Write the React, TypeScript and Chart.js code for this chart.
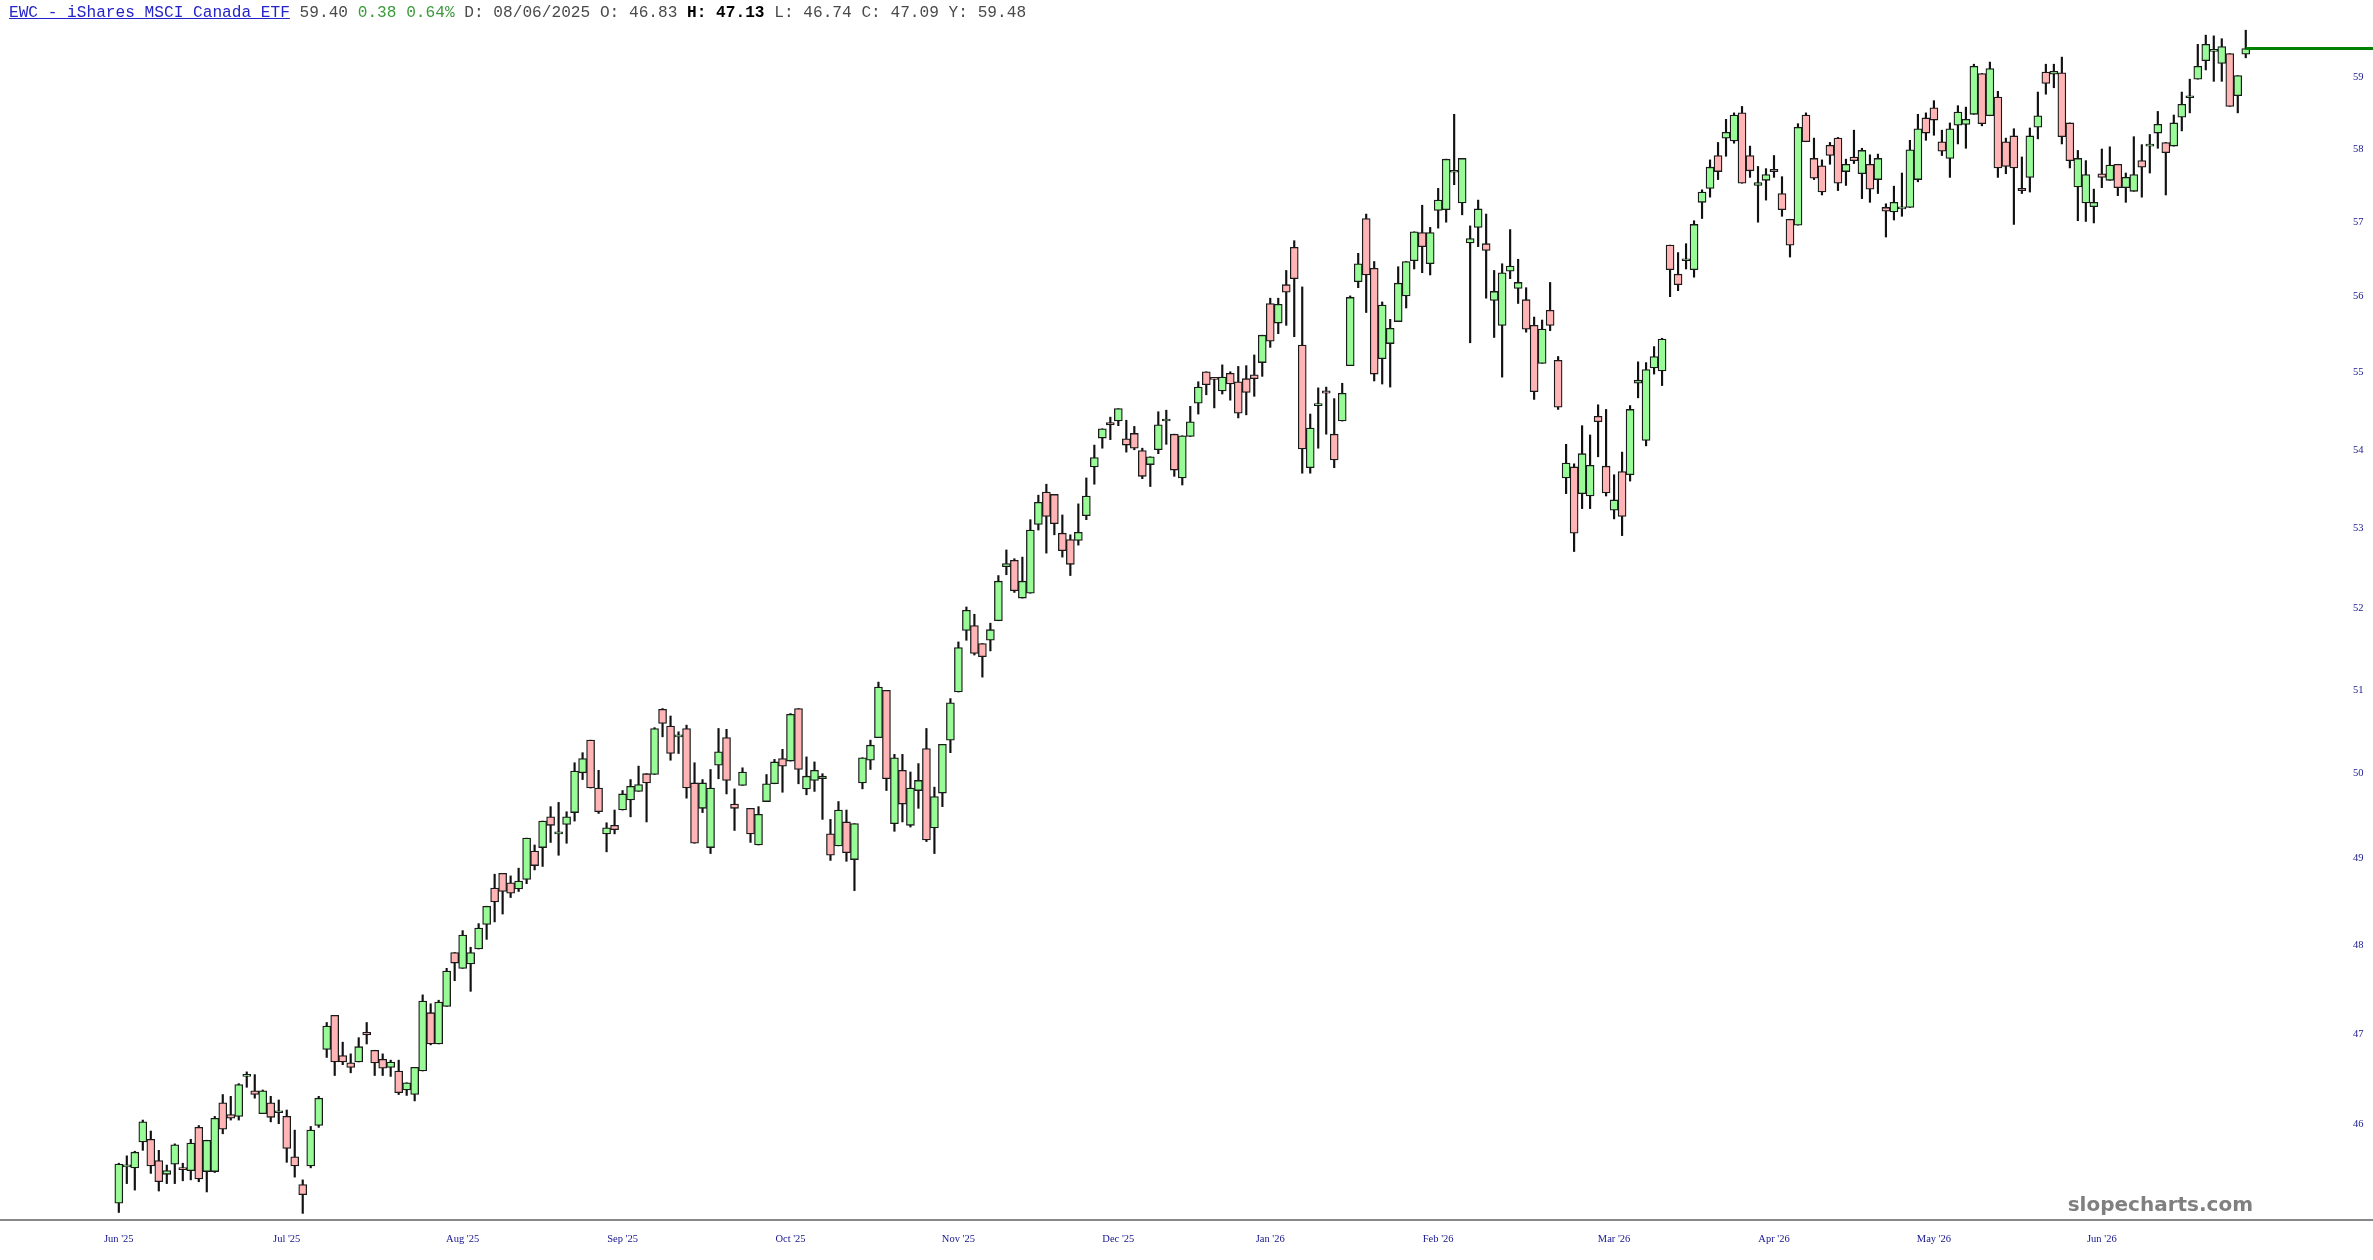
import React, { useEffect, useRef } from "react";
import { Chart, registerables } from "chart.js";

Chart.register(...registerables);

// ---- Data ----
const opens = [
  45.15, 45.54, 45.53, 45.81, 45.84, 45.61, 45.46, 45.57, 45.53, 45.50,
  45.97, 45.49, 45.49, 46.24, 46.11, 46.09, 46.53, 46.37, 46.12, 46.24,
  46.13, 46.09, 45.65, 45.35, 45.55, 45.99, 46.83, 47.21, 46.76, 46.68,
  46.69, 47.02, 46.82, 46.72, 46.63, 46.59, 46.38, 46.33, 46.59, 47.24,
  46.89, 47.31, 47.92, 47.74, 47.79, 47.96, 48.24, 48.66, 48.83, 48.72,
  48.65, 48.76, 49.09, 49.13, 49.49, 49.29, 49.40, 49.54, 50.01, 50.40,
  49.83, 49.29, 49.39, 49.57, 49.69, 49.79, 50.00, 49.99, 50.77, 50.57,
  50.44, 50.54, 49.89, 49.59, 49.13, 50.10, 50.43, 49.64, 49.86, 49.59,
  49.16, 49.67, 49.88, 50.18, 50.15, 50.78, 49.82, 49.92, 49.94, 49.29,
  49.15, 49.43, 48.99, 49.89, 50.16, 50.43, 51.00, 49.41, 50.04, 49.39,
  49.80, 50.30, 49.36, 49.77, 50.40, 50.98, 51.73, 51.79, 51.57, 51.61,
  51.85, 52.52, 52.60, 52.13, 52.19, 53.05, 53.46, 53.43, 52.94, 52.86,
  52.85, 53.16, 53.78, 54.15, 54.35, 54.37, 54.14, 54.21, 53.99, 53.81,
  54.00, 54.37, 54.20, 53.64, 54.17, 54.60, 55.01, 54.92, 54.76, 54.99,
  54.88, 54.92, 54.97, 55.13, 55.91, 55.65, 56.16, 56.66, 55.36, 53.77,
  54.57, 54.76, 54.20, 54.37, 55.09, 56.20, 57.05, 56.38, 55.18, 55.38,
  55.67, 56.01, 56.48, 56.86, 56.44, 57.16, 57.17, 57.68, 57.26, 56.72,
  56.93, 56.71, 55.95, 55.62, 56.34, 56.11, 55.96, 55.62, 55.12, 55.82,
  55.16, 53.64, 53.78, 53.44, 53.41, 54.43, 53.79, 53.23, 53.72, 53.68,
  54.86, 54.12, 55.06, 55.02, 56.69, 56.30, 56.48, 56.36, 57.27, 57.46,
  57.91, 58.15, 58.11, 58.50, 57.91, 57.50, 57.57, 57.72, 57.39, 57.04,
  56.96, 58.47, 57.87, 57.77, 58.05, 58.15, 57.69, 57.89, 57.66, 57.79,
  57.58, 57.20, 57.14, 57.18, 57.20, 57.58, 58.43, 58.57, 58.10, 57.87,
  58.33, 58.34, 58.48, 59.05, 58.46, 58.72, 58.10, 58.18, 57.46, 57.61,
  58.30, 59.07, 59.04, 59.06, 58.36, 57.48, 57.26, 57.21, 57.66, 57.57,
  57.79, 57.47, 57.42, 57.84, 58.04, 58.22, 58.09, 58.04, 58.44, 58.71,
  58.97, 59.23, 59.36, 59.19, 59.33, 58.74, 59.32,
];
const highs = [
  45.58, 45.66, 45.71, 46.05, 45.93, 45.72, 45.56, 45.79, 45.58, 45.84,
  45.99, 45.83, 46.09, 46.33, 46.31, 46.45, 46.58, 46.55, 46.38, 46.31,
  46.27, 46.16, 45.94, 45.40, 45.98, 46.31, 47.13, 47.21, 46.91, 46.78,
  46.96, 47.13, 46.82, 46.78, 46.71, 46.71, 46.46, 46.63, 47.44, 47.34,
  47.38, 47.74, 47.92, 48.17, 47.98, 48.25, 48.45, 48.82, 48.83, 48.80,
  48.89, 49.24, 49.16, 49.44, 49.61, 49.66, 49.55, 50.13, 50.25, 50.40,
  50.04, 49.42, 49.57, 49.80, 49.93, 50.09, 50.00, 50.55, 50.78, 50.69,
  50.50, 50.58, 50.13, 49.93, 50.05, 50.54, 50.53, 49.82, 50.07, 49.59,
  49.61, 49.99, 50.17, 50.29, 50.72, 50.78, 50.20, 50.14, 50.00, 49.46,
  49.67, 49.57, 49.41, 50.19, 50.40, 51.10, 51.00, 50.23, 50.23, 50.02,
  50.12, 50.54, 49.84, 50.35, 50.90, 51.59, 52.02, 51.93, 51.57, 51.82,
  52.41, 52.73, 52.62, 52.64, 53.11, 53.42, 53.56, 53.43, 53.17, 52.92,
  53.31, 53.64, 54.06, 54.27, 54.42, 54.53, 54.38, 54.30, 54.02, 53.91,
  54.49, 54.51, 54.20, 54.18, 54.56, 54.88, 55.01, 54.92, 55.10, 55.01,
  55.08, 55.09, 55.23, 55.49, 55.98, 55.98, 56.35, 56.75, 56.13, 54.46,
  54.80, 54.81, 54.66, 54.86, 56.01, 56.58, 57.11, 56.47, 55.93, 55.70,
  56.40, 56.47, 56.87, 57.23, 56.93, 57.46, 57.86, 58.48, 57.87, 56.95,
  57.30, 57.11, 56.35, 56.44, 56.90, 56.50, 56.12, 55.73, 55.69, 56.19,
  55.21, 54.07, 53.82, 54.31, 54.19, 54.58, 54.52, 53.68, 53.97, 54.57,
  55.14, 55.13, 55.34, 55.45, 56.69, 56.59, 56.71, 57.02, 57.44, 57.85,
  58.09, 58.41, 58.50, 58.59, 58.04, 57.76, 57.73, 57.91, 57.62, 57.04,
  58.35, 58.50, 58.15, 57.85, 58.09, 58.16, 57.86, 58.26, 58.01, 57.92,
  57.93, 57.25, 57.49, 57.67, 58.12, 58.48, 58.50, 58.67, 58.26, 58.36,
  58.60, 58.58, 59.18, 59.05, 59.21, 58.80, 58.15, 58.28, 57.89, 58.29,
  58.79, 59.18, 59.18, 59.28, 58.36, 57.98, 57.84, 57.45, 58.00, 58.03,
  57.79, 57.67, 58.17, 58.06, 58.20, 58.52, 58.09, 58.47, 58.79, 58.97,
  59.46, 59.59, 59.58, 59.54, 59.33, 59.02, 59.66,
];
const lows = [
  45.05, 45.36, 45.29, 45.72, 45.47, 45.28, 45.36, 45.36, 45.39, 45.40,
  45.38, 45.27, 45.48, 45.90, 46.05, 46.05, 46.41, 46.29, 46.12, 46.03,
  46.01, 45.59, 45.43, 45.04, 45.53, 45.97, 46.74, 46.54, 46.66, 46.57,
  46.69, 46.89, 46.54, 46.54, 46.53, 46.33, 46.32, 46.26, 46.59, 46.88,
  46.89, 47.31, 47.60, 47.74, 47.48, 47.96, 48.07, 48.27, 48.36, 48.55,
  48.62, 48.71, 48.87, 48.91, 49.19, 49.04, 49.18, 49.44, 49.93, 49.83,
  49.53, 49.08, 49.29, 49.57, 49.49, 49.79, 49.43, 49.99, 50.44, 50.16,
  50.24, 49.71, 49.18, 49.54, 49.06, 49.94, 49.76, 49.33, 49.86, 49.19,
  49.16, 49.67, 49.88, 49.78, 50.15, 49.88, 49.75, 49.79, 49.46, 48.98,
  49.15, 48.97, 48.63, 49.82, 50.05, 50.43, 49.80, 49.32, 49.43, 49.37,
  49.59, 49.20, 49.06, 49.61, 50.25, 50.98, 51.61, 51.43, 51.16, 51.48,
  51.85, 52.42, 52.20, 52.13, 52.19, 52.98, 52.69, 52.92, 52.64, 52.41,
  52.79, 53.11, 53.56, 54.02, 54.13, 54.31, 53.97, 54.00, 53.63, 53.53,
  53.95, 54.07, 53.66, 53.55, 54.17, 54.46, 54.71, 54.54, 54.72, 54.64,
  54.41, 54.45, 54.69, 54.95, 55.33, 55.51, 55.62, 55.47, 53.70, 53.70,
  54.02, 54.20, 53.77, 54.37, 55.09, 56.12, 55.79, 54.89, 54.85, 54.81,
  55.67, 55.85, 56.37, 56.32, 56.29, 56.92, 57.00, 57.51, 57.10, 55.39,
  56.67, 55.98, 55.46, 54.94, 56.24, 55.91, 55.53, 54.65, 55.12, 55.55,
  54.52, 53.44, 52.71, 53.25, 53.25, 53.91, 53.41, 53.12, 52.91, 53.60,
  54.67, 54.05, 54.98, 54.83, 56.00, 56.08, 56.37, 56.26, 57.05, 57.34,
  57.58, 57.90, 58.08, 57.53, 57.61, 57.00, 57.30, 57.61, 57.08, 56.53,
  56.96, 58.10, 57.58, 57.37, 57.79, 57.43, 57.50, 57.80, 57.32, 57.27,
  57.39, 56.80, 57.03, 57.08, 57.20, 57.55, 58.12, 58.19, 57.91, 57.61,
  58.07, 58.01, 58.48, 58.32, 58.46, 57.61, 57.66, 56.97, 57.39, 57.41,
  58.14, 58.76, 58.85, 58.07, 57.74, 57.02, 57.01, 56.99, 57.47, 57.57,
  57.36, 57.27, 57.42, 57.34, 57.67, 58.01, 57.37, 58.04, 58.25, 58.50,
  58.97, 59.10, 58.94, 58.94, 58.59, 58.50, 59.27,
];
const closes = [
  45.57, 45.56, 45.70, 46.03, 45.55, 45.38, 45.50, 45.78, 45.51, 45.80,
  45.41, 45.83, 46.07, 45.95, 46.07, 46.44, 46.53, 46.33, 46.37, 46.08,
  46.15, 45.74, 45.55, 45.24, 45.94, 46.29, 47.09, 46.69, 46.69, 46.63,
  46.86, 46.99, 46.68, 46.62, 46.69, 46.35, 46.46, 46.63, 47.37, 46.89,
  47.36, 47.71, 47.80, 48.12, 47.92, 48.20, 48.45, 48.50, 48.62, 48.60,
  48.74, 49.24, 48.92, 49.44, 49.39, 49.29, 49.49, 50.03, 50.18, 49.83,
  49.55, 49.36, 49.34, 49.76, 49.85, 49.87, 49.89, 50.54, 50.60, 50.24,
  50.45, 49.83, 49.18, 49.89, 49.83, 50.26, 49.92, 49.59, 50.02, 49.29,
  49.52, 49.88, 50.14, 50.09, 50.71, 50.05, 49.97, 50.04, 49.97, 49.04,
  49.57, 49.07, 49.41, 50.19, 50.34, 51.04, 49.94, 50.19, 49.64, 49.83,
  49.92, 49.22, 49.73, 50.35, 50.85, 51.52, 51.98, 51.45, 51.41, 51.74,
  52.34, 52.56, 52.22, 52.34, 52.98, 53.33, 53.15, 53.06, 52.72, 52.55,
  52.95, 53.41, 53.90, 54.27, 54.32, 54.53, 54.06, 54.02, 53.66, 53.91,
  54.32, 54.37, 53.74, 54.18, 54.36, 54.81, 54.84, 54.91, 54.94, 54.85,
  54.47, 54.74, 54.92, 55.49, 55.41, 55.90, 56.06, 56.24, 54.01, 54.28,
  54.57, 54.73, 53.87, 54.73, 55.99, 56.44, 56.29, 54.98, 55.89, 55.58,
  56.18, 56.47, 56.87, 56.67, 56.86, 57.30, 57.86, 57.68, 57.87, 56.78,
  57.18, 56.62, 56.07, 56.32, 56.41, 56.19, 55.57, 54.75, 55.57, 55.62,
  54.55, 53.83, 52.94, 53.95, 53.80, 54.36, 53.45, 53.36, 53.15, 54.52,
  54.90, 55.04, 55.21, 55.44, 56.36, 56.16, 56.48, 56.97, 57.41, 57.75,
  57.69, 58.23, 58.47, 57.53, 57.70, 57.54, 57.65, 57.69, 57.17, 56.69,
  58.30, 58.10, 57.60, 57.41, 57.91, 57.53, 57.79, 57.84, 57.98, 57.45,
  57.87, 57.15, 57.27, 57.20, 57.99, 58.28, 58.22, 58.40, 57.97, 58.28,
  58.51, 58.41, 59.15, 58.35, 59.12, 57.74, 57.76, 57.74, 57.43, 58.18,
  58.46, 58.91, 59.08, 58.17, 57.84, 57.87, 57.65, 57.27, 57.61, 57.78,
  57.47, 57.61, 57.65, 57.75, 58.04, 58.34, 57.95, 58.36, 58.62, 58.71,
  59.15, 59.46, 59.36, 59.43, 58.59, 59.02, 59.40,
];

// Month ticks: index of the first session of each month, and its label
const monthTickIdx = [0, 21, 43, 63, 84, 105, 125, 144, 165, 187, 207, 227, 248];
const monthTickLabels = [
  "Jun '25", "Jul '25", "Aug '25", "Sep '25", "Oct '25", "Nov '25", "Dec '25",
  "Jan '26", "Feb '26", "Mar '26", "Apr '26", "May '26", "Jun '26",
];
const priceTicks = [46, 47, 48, 49, 50, 51, 52, 53, 54, 55, 56, 57, 58, 59];

// Header info
const tickerTitle = "EWC - iShares MSCI Canada ETF";
const infoIdx = 26;
const infoDate = "08/06/2025";
const infoY = "59.48";

// Axis ranges
const Y_MIN = 44.98;
const Y_MAX = 60.09;
const X_MIN = -14.86;
const X_MAX = 278.16;

const GREEN = "#98fb98";
const PINK = "#ffb5b5";
const NAVY = "#16168f";

export default function App() {
  const ref = useRef<HTMLCanvasElement>(null);

  useEffect(() => {
    document.body.style.margin = "0";
    document.body.style.overflow = "hidden";
    const canvas = ref.current;
    if (!canvas) return;

    const idx = closes.map((_, i) => i);
    const bodies = idx.map((i) => ({
      x: i,
      y: [Math.min(opens[i], closes[i]), Math.max(opens[i], closes[i])],
    }));
    const wicks = idx.map((i) => ({ x: i, y: [lows[i], highs[i]] }));
    const bodyColors = idx.map((i) => (closes[i] >= opens[i] ? GREEN : PINK));

    const overlayPlugin = {
      id: "overlay",
      afterDatasetsDraw(chart: any) {
        const { ctx, chartArea } = chart;
        const xs = chart.scales.x;
        const ys = chart.scales.y;
        ctx.save();
        // bottom rule across the full width
        ctx.strokeStyle = "#888888";
        ctx.lineWidth = 2;
        ctx.beginPath();
        ctx.moveTo(0, chartArea.bottom + 1);
        ctx.lineTo(chart.width, chartArea.bottom + 1);
        ctx.stroke();
        // last price line
        const last = closes.length - 1;
        const py = ys.getPixelForValue(closes[last]);
        const px = xs.getPixelForValue(last);
        ctx.strokeStyle = "#008000";
        ctx.lineWidth = 3;
        ctx.beginPath();
        ctx.moveTo(px, py);
        ctx.lineTo(chart.width, py);
        ctx.stroke();
        // watermark
        ctx.font = 'bold 20px "DejaVu Sans", sans-serif';
        ctx.fillStyle = "#808080";
        ctx.textAlign = "right";
        ctx.textBaseline = "alphabetic";
        ctx.fillText("slopecharts.com", 2253, 1211);
        ctx.restore();
      },
    };

    const chart = new Chart(canvas, {
      type: "bar",
      data: {
        datasets: [
          {
            label: "wick",
            data: wicks as any,
            backgroundColor: "#111111",
            borderWidth: 0,
            barThickness: 1.5,
            grouped: false,
            order: 2,
          } as any,
          {
            label: "body",
            data: bodies as any,
            backgroundColor: bodyColors,
            borderColor: "#1a1a1a",
            borderWidth: 1.3,
            borderSkipped: false,
            barThickness: 8,
            minBarLength: 2,
            grouped: false,
            order: 1,
          } as any,
        ],
      },
      options: {
        animation: false,
        responsive: false,
        maintainAspectRatio: false,
        events: [],
        layout: { padding: 0, autoPadding: false },
        plugins: {
          legend: { display: false },
          tooltip: { enabled: false },
        },
        scales: {
          x: {
            type: "linear",
            position: "bottom",
            offset: false,
            min: X_MIN,
            max: X_MAX,
            bounds: "data",
            grid: { display: false, drawTicks: false },
            border: { display: false },
            ticks: {
              autoSkip: false,
              maxRotation: 0,
              minRotation: 0,
              padding: 14,
              color: NAVY,
              font: { family: '"Liberation Serif", serif', size: 10.5 },
              callback: (v: any) => {
                const k = monthTickIdx.indexOf(Number(v));
                return k >= 0 ? monthTickLabels[k] : "";
              },
            },
            afterBuildTicks: (s: any) => {
              s.ticks = monthTickIdx.map((v) => ({ value: v }));
            },
            afterFit: (s: any) => {
              s.height = 41;
              s.paddingLeft = 0;
              s.paddingRight = 0;
              s.paddingTop = 0;
              s.paddingBottom = 0;
            },
          },
          y: {
            type: "logarithmic",
            position: "right",
            min: Y_MIN,
            max: Y_MAX,
            bounds: "data",
            grid: { display: false, drawTicks: false },
            border: { display: false },
            ticks: {
              padding: 10,
              color: NAVY,
              font: { family: '"Liberation Serif", serif', size: 10.5 },
              callback: (v: any) => String(v),
            },
            afterBuildTicks: (s: any) => {
              s.ticks = priceTicks.map((v) => ({ value: v }));
            },
            afterFit: (s: any) => {
              s.width = 30;
              s.paddingLeft = 0;
              s.paddingRight = 0;
              s.paddingTop = 0;
              s.paddingBottom = 0;
            },
          },
        },
      } as any,
      plugins: [overlayPlugin],
    });
    return () => chart.destroy();
  }, []);

  const last = closes.length - 1;
  const lastClose = closes[last];
  const chg = lastClose - closes[last - 1];
  const pct = (chg / closes[last - 1]) * 100;

  return (
    <div style={{ position: "relative", width: 2373, height: 1260, background: "#fff" }}>
      <canvas ref={ref} width={2373} height={1260} style={{ display: "block" }} />
      <div
        style={{
          position: "absolute",
          left: 9,
          top: 3,
          fontFamily: '"Liberation Mono", monospace',
          fontSize: 16.15,
          lineHeight: "20px",
          whiteSpace: "pre",
          color: "#4a4a4a",
        }}
      >
        <span style={{ color: "#2424c8", textDecoration: "underline" }}>{tickerTitle}</span>
        {" " + lastClose.toFixed(2) + " "}
        <span style={{ color: "#3a9a3a" }}>{chg.toFixed(2) + " " + pct.toFixed(2) + "%"}</span>
        {" D: " + infoDate + " O: " + opens[infoIdx].toFixed(2) + " "}
        <span style={{ color: "#000", fontWeight: "bold" }}>{"H: " + highs[infoIdx].toFixed(2)}</span>
        {" L: " + lows[infoIdx].toFixed(2) + " C: " + closes[infoIdx].toFixed(2) + " Y: " + infoY}
      </div>
    </div>
  );
}
